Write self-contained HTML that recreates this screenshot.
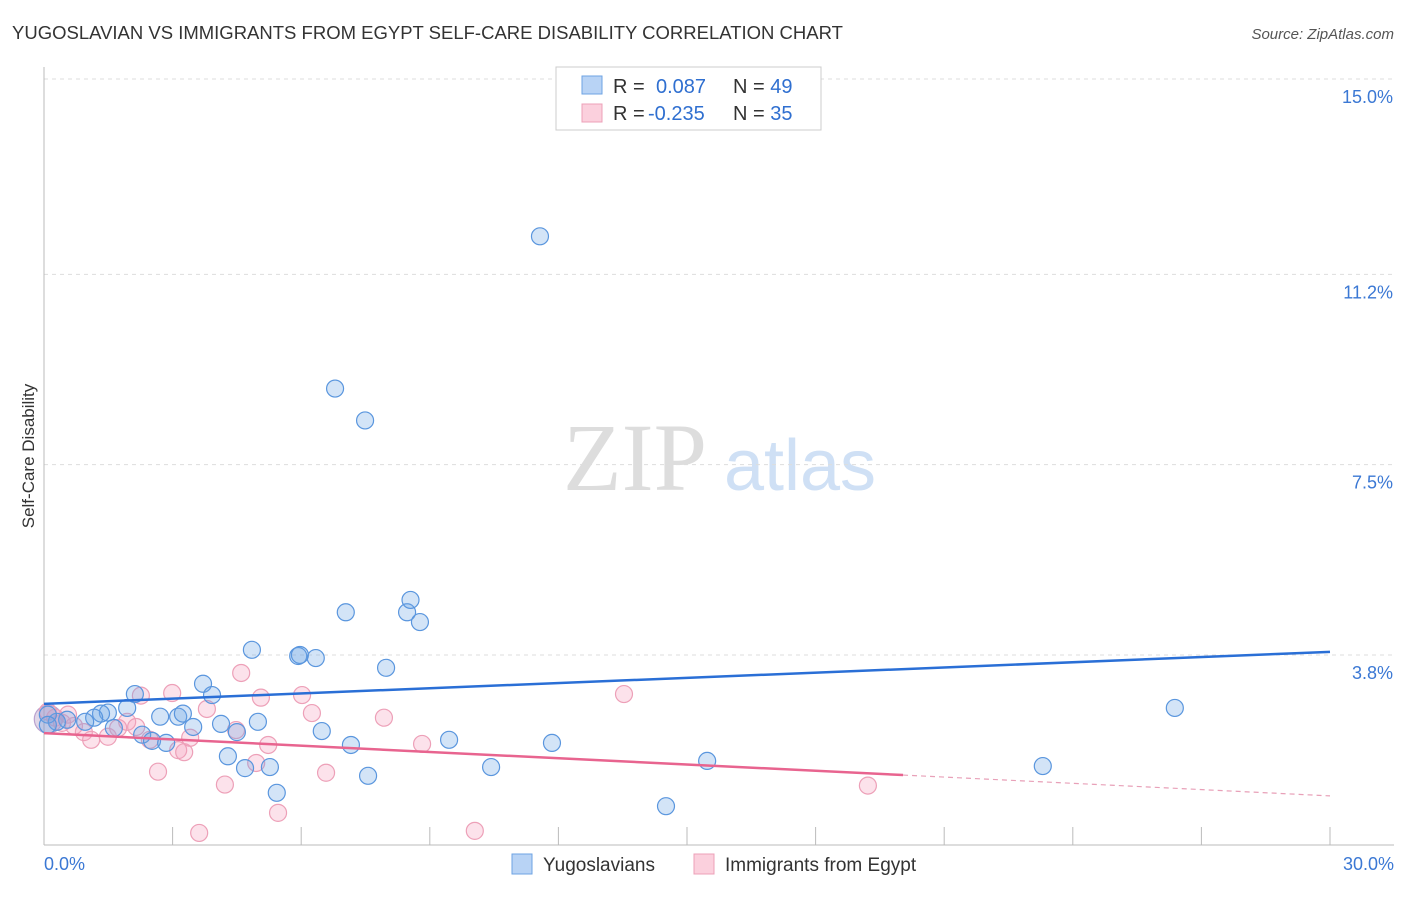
<!DOCTYPE html>
<html><head><meta charset="utf-8"><style>
body{margin:0;background:#fff;font-family:"Liberation Sans",sans-serif;}
svg text{font-family:"Liberation Sans",sans-serif;}
</style></head><body>
<svg id="chart" width="1406" height="892" viewBox="0 0 1406 892" xmlns="http://www.w3.org/2000/svg">
<text x="12" y="39" font-size="18.5" fill="#333">YUGOSLAVIAN VS IMMIGRANTS FROM EGYPT SELF-CARE DISABILITY CORRELATION CHART</text>
<text x="1394" y="39" font-size="15" fill="#555" text-anchor="end" font-style="italic">Source: ZipAtlas.com</text>
<g>
<text x="635" y="490" font-size="96" fill="#ddd" text-anchor="middle" font-family="Liberation Serif" style="font-family:'Liberation Serif',serif">ZIP</text>
<text x="800" y="490" font-size="72" fill="#cfe0f5" text-anchor="middle">atlas</text>
</g>
<g id="grid"></g>
<g id="axes"></g>
<g id="marks"></g>
<text transform="translate(34,456) rotate(-90)" font-size="17" fill="#333" text-anchor="middle">Self-Care Disability</text>
<g>
<rect x="556" y="67" width="265" height="63" fill="#fff" stroke="#ccc"/>
<rect x="582" y="76" width="20" height="18" fill="#b8d3f5" stroke="#6ea3e3"/>
<rect x="582" y="104" width="20" height="18" fill="#fbd0dd" stroke="#eda0b8"/>
<text x="613" y="93" font-size="20" fill="#333">R = <tspan x="656" fill="#2f6fd0">0.087</tspan><tspan x="733">N = </tspan><tspan fill="#2f6fd0">49</tspan></text>
<text x="613" y="120" font-size="20" fill="#333">R = <tspan x="648" fill="#2f6fd0">-0.235</tspan><tspan x="733">N = </tspan><tspan fill="#2f6fd0">35</tspan></text>
</g>
<g>
<rect x="512" y="854" width="20" height="20" fill="#b8d3f5" stroke="#6ea3e3"/>
<text x="543" y="871" font-size="19" fill="#333">Yugoslavians</text>
<rect x="694" y="854" width="20" height="20" fill="#fbd0dd" stroke="#eda0b8"/>
<text x="725" y="871" font-size="19" fill="#333">Immigrants from Egypt</text>
</g>
</svg>
<script>
const yTicks=[15.0,11.2,7.5,3.8];
const yTickLabels=["15.0%","11.2%","7.5%","3.8%"];
const xTickVals=[3,6,9,12,15,18,21,24,27,30];
const xEdgeLabels=["0.0%","30.0%"];
const blueX=[11.57,6.79,7.49,7.04,8.47,8.55,8.77,4.85,5.93,5.97,6.34,7.98,3.71,3.92,2.12,1.94,1.49,1.33,2.71,3.13,3.24,1.17,0.54,0.30,0.09,0.09,0.96,1.63,4.13,4.99,4.50,3.48,2.29,2.52,2.85,6.48,7.16,9.45,11.85,4.29,4.69,5.27,7.56,10.43,15.47,23.30,26.38,14.51,5.43];
const blueY=[11.94,8.98,8.36,4.63,4.63,4.87,4.44,3.90,3.78,3.80,3.74,3.55,3.24,3.02,3.04,2.77,2.68,2.66,2.60,2.60,2.66,2.58,2.54,2.50,2.64,2.44,2.50,2.38,2.46,2.50,2.30,2.40,2.25,2.13,2.09,2.32,2.05,2.15,2.09,1.83,1.60,1.62,1.45,1.62,1.74,1.64,2.77,0.86,1.12];
const pinkX=[0.09,0.26,0.42,0.70,0.93,1.10,1.49,1.73,1.94,2.15,2.26,2.47,2.66,2.99,3.13,3.27,3.41,3.80,4.22,4.48,4.60,5.06,4.95,5.23,5.46,6.02,6.25,6.58,7.93,8.82,10.05,3.62,13.53,19.22,0.56];
const pinkY=[2.70,2.58,2.48,2.42,2.30,2.15,2.21,2.38,2.50,2.40,3.01,2.15,1.53,3.06,1.95,1.91,2.19,2.75,1.28,2.34,3.45,2.97,1.70,2.05,0.73,3.02,2.67,1.51,2.58,2.07,0.38,0.34,3.04,1.26,2.64];
const blueTrend=[2.85,3.86];
const pinkTrend=[2.28,1.06];
const pinkSolidEnd=20.04;
const X=v=>44+v*(1286/30);
const Y=v=>850.4-v*51.43;
const NS="http://www.w3.org/2000/svg";
function mk(tag,attrs,parent){const e=document.createElementNS(NS,tag);for(const k in attrs)e.setAttribute(k,attrs[k]);parent.appendChild(e);return e;}
const grid=document.getElementById('grid'),axes=document.getElementById('axes'),marks=document.getElementById('marks');
yTicks.forEach((t,i)=>{
 const l=mk('line',{x1:44,x2:1394,y1:Y(t),y2:Y(t),stroke:'#ddd','stroke-dasharray':'4,4'},grid);
 
 
 const tx=mk('text',{x:1393,y:Y(t)+24,'font-size':18,fill:'#3b78d4','text-anchor':'end'},axes);
 tx.textContent=yTickLabels[i];
 
 
});
const ya=mk('line',{x1:44,x2:44,y1:67,y2:845,stroke:'#bbb'},axes);


const xa=mk('line',{x1:44,x2:1394,y1:845,y2:845,stroke:'#bbb'},axes);


xTickVals.forEach(t=>{
 const l=mk('line',{x1:X(t),x2:X(t),y1:827,y2:845,stroke:'#bbb'},axes);
 
 
});
const l0=mk('text',{x:44,y:870,'font-size':18,fill:'#3b78d4'},axes);l0.textContent=xEdgeLabels[0];


const l1=mk('text',{x:1394,y:870,'font-size':18,fill:'#3b78d4','text-anchor':'end'},axes);l1.textContent=xEdgeLabels[1];


const big=mk('circle',{cx:X(0.1),cy:Y(2.55),r:14,fill:'rgba(170,140,190,0.35)',stroke:'#b9a2cf','stroke-width':1.2},marks);


pinkX.forEach((v,i)=>{
 const c=mk('circle',{cx:X(v),cy:Y(pinkY[i]),r:8.5,fill:'rgba(244,160,188,0.3)',stroke:'#eda0b8','stroke-width':1.2},marks);
 
 
});
blueX.forEach((v,i)=>{
 const c=mk('circle',{cx:X(v),cy:Y(blueY[i]),r:8.5,fill:'rgba(110,165,230,0.3)',stroke:'#5a96de','stroke-width':1.2},marks);
 
 
});
const bt=mk('line',{x1:X(0),y1:Y(blueTrend[0]),x2:X(30),y2:Y(blueTrend[1]),stroke:'#2a6fd6','stroke-width':2.5},marks);


const pAt=x=>pinkTrend[0]+(pinkTrend[1]-pinkTrend[0])*x/30;
const pt=mk('line',{x1:X(0),y1:Y(pinkTrend[0]),x2:X(pinkSolidEnd),y2:Y(pAt(pinkSolidEnd)),stroke:'#e8648f','stroke-width':2.5},marks);


const pd=mk('line',{x1:X(pinkSolidEnd),y1:Y(pAt(pinkSolidEnd)),x2:X(30),y2:Y(pinkTrend[1]),stroke:'#e8a0b8','stroke-width':1.2,'stroke-dasharray':'5,4'},marks);


</script>
</body></html>
